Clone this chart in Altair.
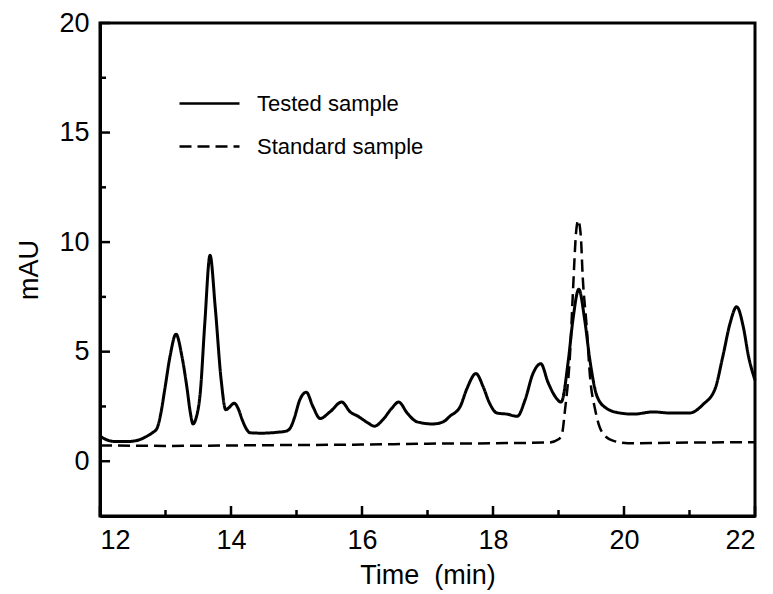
import altair as alt
import pandas as pd

# Tested sample (solid)
tested_t = [12.0, 12.1, 12.23, 12.43, 12.6, 12.69, 12.8, 12.87, 12.93, 12.99, 13.07, 13.16, 13.25, 13.33,
            13.38, 13.42, 13.47, 13.53, 13.6, 13.68, 13.76, 13.85, 13.92, 13.97, 14.05, 14.11, 14.17, 14.23,
            14.29, 14.47, 14.7, 14.85, 14.92, 14.97, 15.05, 15.15, 15.25, 15.36, 15.51, 15.69, 15.82, 15.94,
            16.08, 16.19, 16.32, 16.45, 16.56, 16.69, 16.84, 17.08, 17.24, 17.34, 17.5, 17.6, 17.74, 17.85,
            17.94, 18.06, 18.21, 18.37, 18.49, 18.61, 18.73, 18.84, 18.95, 19.04, 19.15, 19.22, 19.31, 19.4,
            19.48, 19.59, 19.74, 19.94, 20.14, 20.45, 20.7, 21.0, 21.21, 21.39, 21.51, 21.62, 21.72, 21.82,
            21.9, 22.0]
tested_v = [1.15, 0.98, 0.9, 0.9, 0.98, 1.1, 1.3, 1.5, 2.2, 3.3, 4.8, 5.8, 4.8, 3.3,
            2.2, 1.7, 2.0, 3.1, 6.3, 9.4, 7.0, 3.7, 2.35, 2.45, 2.65, 2.4, 1.9, 1.5,
            1.3, 1.28, 1.32, 1.38, 1.6, 2.0, 2.8, 3.15, 2.5, 1.95, 2.25, 2.7, 2.25, 2.05,
            1.77, 1.6, 1.9, 2.4, 2.7, 2.2, 1.8, 1.7, 1.8, 2.05, 2.5, 3.3, 4.0, 3.4,
            2.7, 2.2, 2.15, 2.05, 2.8, 4.0, 4.45, 3.6, 2.95, 2.7, 4.6, 6.45, 7.85, 6.45,
            4.6, 2.95, 2.4, 2.2, 2.15, 2.25, 2.2, 2.2, 2.6, 3.3, 4.8, 6.3, 7.05, 6.15,
            4.8, 3.7]

# Standard sample (dashed)
standard_t = [12.0, 13.0, 14.0, 15.0, 16.0, 17.0, 18.0, 18.87, 19.0, 19.05, 19.1, 19.18, 19.22, 19.27,
              19.3, 19.34, 19.37, 19.43, 19.48, 19.56, 19.66, 19.82, 20.06, 21.0, 22.0]
standard_v = [0.72, 0.7, 0.72, 0.74, 0.76, 0.8, 0.82, 0.86, 1.0, 1.2, 2.35, 5.1, 7.7, 10.5,
              11.0, 10.3, 8.4, 6.15, 3.9, 2.35, 1.35, 0.95, 0.82, 0.85, 0.87]

series_names = ["Tested sample", "Standard sample"]

x_major = [12, 14, 16, 18, 20, 22]
x_minor = [13, 15, 17, 19, 21]
y_major = [0, 5, 10, 15, 20]
y_minor = [2.5, 7.5, 12.5, 17.5]

FONT = "Liberation Sans"

rows = [{"t": t, "v": v, "series": series_names[0], "o": i} for i, (t, v) in enumerate(zip(tested_t, tested_v))]
rows += [{"t": t, "v": v, "series": series_names[1], "o": i} for i, (t, v) in enumerate(zip(standard_t, standard_v))]
df = pd.DataFrame(rows)

xscale = alt.Scale(domain=[12, 22], nice=False, zero=False)
yscale = alt.Scale(domain=[-2.5, 20], nice=False, zero=False)

xaxis = alt.Axis(values=x_major, format="d", title="Time\u00a0\u00a0(min)", labelFontSize=27, titleFontSize=27,
                 labelPadding=11, titleX=327.5, titleY=67, titleBaseline="alphabetic",
                 labelFont=FONT, titleFont=FONT, titleFontWeight="normal")
yaxis = alt.Axis(values=y_major, format="d", title="mAU", labelFontSize=27, titleFontSize=27,
                 labelPadding=11, titleX=-63, titleY=246.5, titleBaseline="alphabetic",
                 titleAngle=270, titleAlign="center",
                 labelFont=FONT, titleFont=FONT, titleFontWeight="normal")

lines = alt.Chart(df).mark_line(interpolate="monotone", color="black").encode(
    x=alt.X("t:Q", scale=xscale, axis=xaxis),
    y=alt.Y("v:Q", scale=yscale, axis=yaxis),
    order="o:Q",
    strokeDash=alt.StrokeDash(
        "series:N",
        scale=alt.Scale(domain=series_names, range=[[1, 0], [12, 6]]),
        legend=alt.Legend(
            title=None, orient="none", legendX=78, legendY=49, symbolType="stroke",
            symbolSize=3600, symbolStrokeWidth=2.5, symbolStrokeColor="black",
            labelFontSize=22, labelFont=FONT, labelColor="black", labelOffset=16,
            labelLimit=400, rowPadding=-19, padding=0,
        ),
    ),
    strokeWidth=alt.condition(alt.datum.series == "Tested sample", alt.value(3), alt.value(2.5)),
)


def xticks(vals, length):
    return alt.Chart(pd.DataFrame({"t": vals})).mark_rule(
        color="black", strokeWidth=2.5, y2Offset=-length
    ).encode(x=alt.X("t:Q", scale=xscale),
             y=alt.datum(-2.5), y2=alt.datum(-2.5))


def yticks(vals, length):
    return alt.Chart(pd.DataFrame({"v": vals})).mark_rule(
        color="black", strokeWidth=2.5, x2Offset=length
    ).encode(y=alt.Y("v:Q", scale=yscale),
             x=alt.datum(12), x2=alt.datum(12))


chart = alt.layer(lines, xticks(x_major, 10), xticks(x_minor, 6), yticks(y_major, 10), yticks(y_minor, 6)).properties(
    width=655, height=493,
    autosize=alt.AutoSizeParams(type="none"),
    padding={"left": 92, "top": 15, "right": 10, "bottom": 75},
    background="white",
).configure_view(stroke="black", strokeWidth=3).configure_axis(
    domain=True, domainColor="black", domainWidth=3, grid=False, ticks=False, tickSize=0,
    labelColor="black", titleColor="black"
)

chart.save("out.html", embed_options={"renderer": "svg", "actions": False})
